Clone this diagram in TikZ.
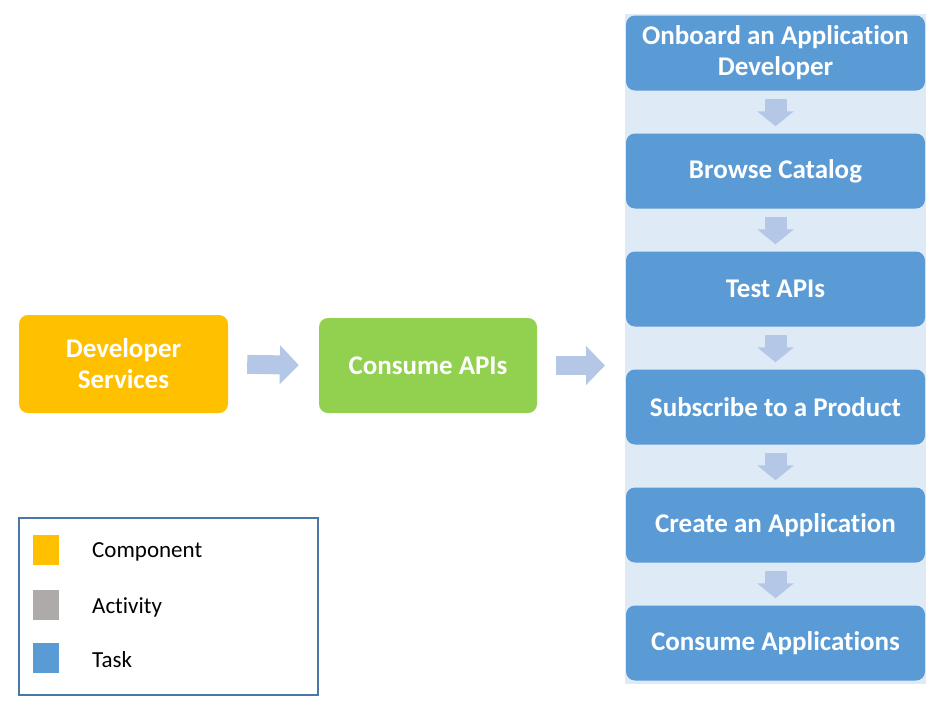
\documentclass[tikz,border=0pt]{standalone}
\usepackage{fontspec}
\setmainfont{Carlito}[Ligatures=NoCommon]
\usetikzlibrary{arrows.meta}
\definecolor{CompOrange}{HTML}{FFC000}
\definecolor{ActGreen}{HTML}{92D050}
\definecolor{TaskBlue}{HTML}{5B9BD5}
\definecolor{PanelBlue}{HTML}{DEEBF7}
\definecolor{FlowBlue}{HTML}{B4C7E7}
\definecolor{ActGray}{HTML}{AEAAAA}
\definecolor{LegendEdge}{HTML}{4A76A8}

\begin{document}
\begin{tikzpicture}[x=1pt,y=-1pt,
    box/.style={rounded corners=9pt, draw=none, text=white, align=center,
        font=\fontsize{27}{31}\selectfont\bfseries, inner sep=0pt},
    taskbox/.style={box, fill=TaskBlue, minimum width=299pt, minimum height=75pt},
    flowright/.style={line width=19pt, draw=FlowBlue,
        -{Triangle[length=19pt, width=38pt]}, shorten <=19pt, shorten >=20pt},
    flowdown/.style={line width=22pt, draw=FlowBlue,
        -{Triangle[length=15pt, width=36pt]}, shorten <=8pt, shorten >=7pt},
    keybox/.style={minimum width=26pt, minimum height=30pt, inner sep=0pt, draw=none},
    keytext/.style={anchor=west, inner sep=0pt, font=\fontsize{23}{27}\selectfont}]
  \useasboundingbox (0,0) rectangle (940,715);
  \fill[PanelBlue] (625,14) rectangle (926,684);

  \node[box, fill=CompOrange, minimum width=209pt, minimum height=98pt]
      (dev) at (123.5,364) {Developer\\Services};
  \node[box, fill=ActGreen, minimum width=218pt, minimum height=95pt]
      (cons) at (428,365.5) {Consume APIs};

  \node[taskbox] (onboard) at (775.5,53) {Onboard an Application\\Developer};
  \node[taskbox] (browse) at (775.5,171) {Browse Catalog};
  \node[taskbox] (test) at (775.5,289) {Test APIs};
  \node[taskbox] (subscribe) at (775.5,407) {Subscribe to a Product};
  \node[taskbox] (create) at (775.5,525) {Create an Application};
  \node[taskbox] (consapp) at (775.5,643) {Consume Applications};

  \coordinate (panel) at (625,364);
  \draw[flowright] (dev.east) -- (cons.west);
  \draw[flowright] (cons.east) -- (cons.east -| panel);

  \draw[flowdown] (onboard) -- (browse);
  \draw[flowdown] (browse) -- (test);
  \draw[flowdown] (test) -- (subscribe);
  \draw[flowdown] (subscribe) -- (create);
  \draw[flowdown] (create) -- (consapp);

  \draw[LegendEdge, line width=1.3pt] (19,518) rectangle (318,695);
  \node[keybox, fill=CompOrange] (kcomp) at (46,550) {};
  \node[keybox, fill=ActGray] (kact) at (46,605) {};
  \node[keybox, fill=TaskBlue] (ktask) at (46,658) {};
  \node[keytext] (tcomp) at (92,552) {Component};
  \node[keytext] (tact) at (92,607) {Activity};
  \node[keytext] (ttask) at (92,660) {Task};
\end{tikzpicture}
\end{document}
